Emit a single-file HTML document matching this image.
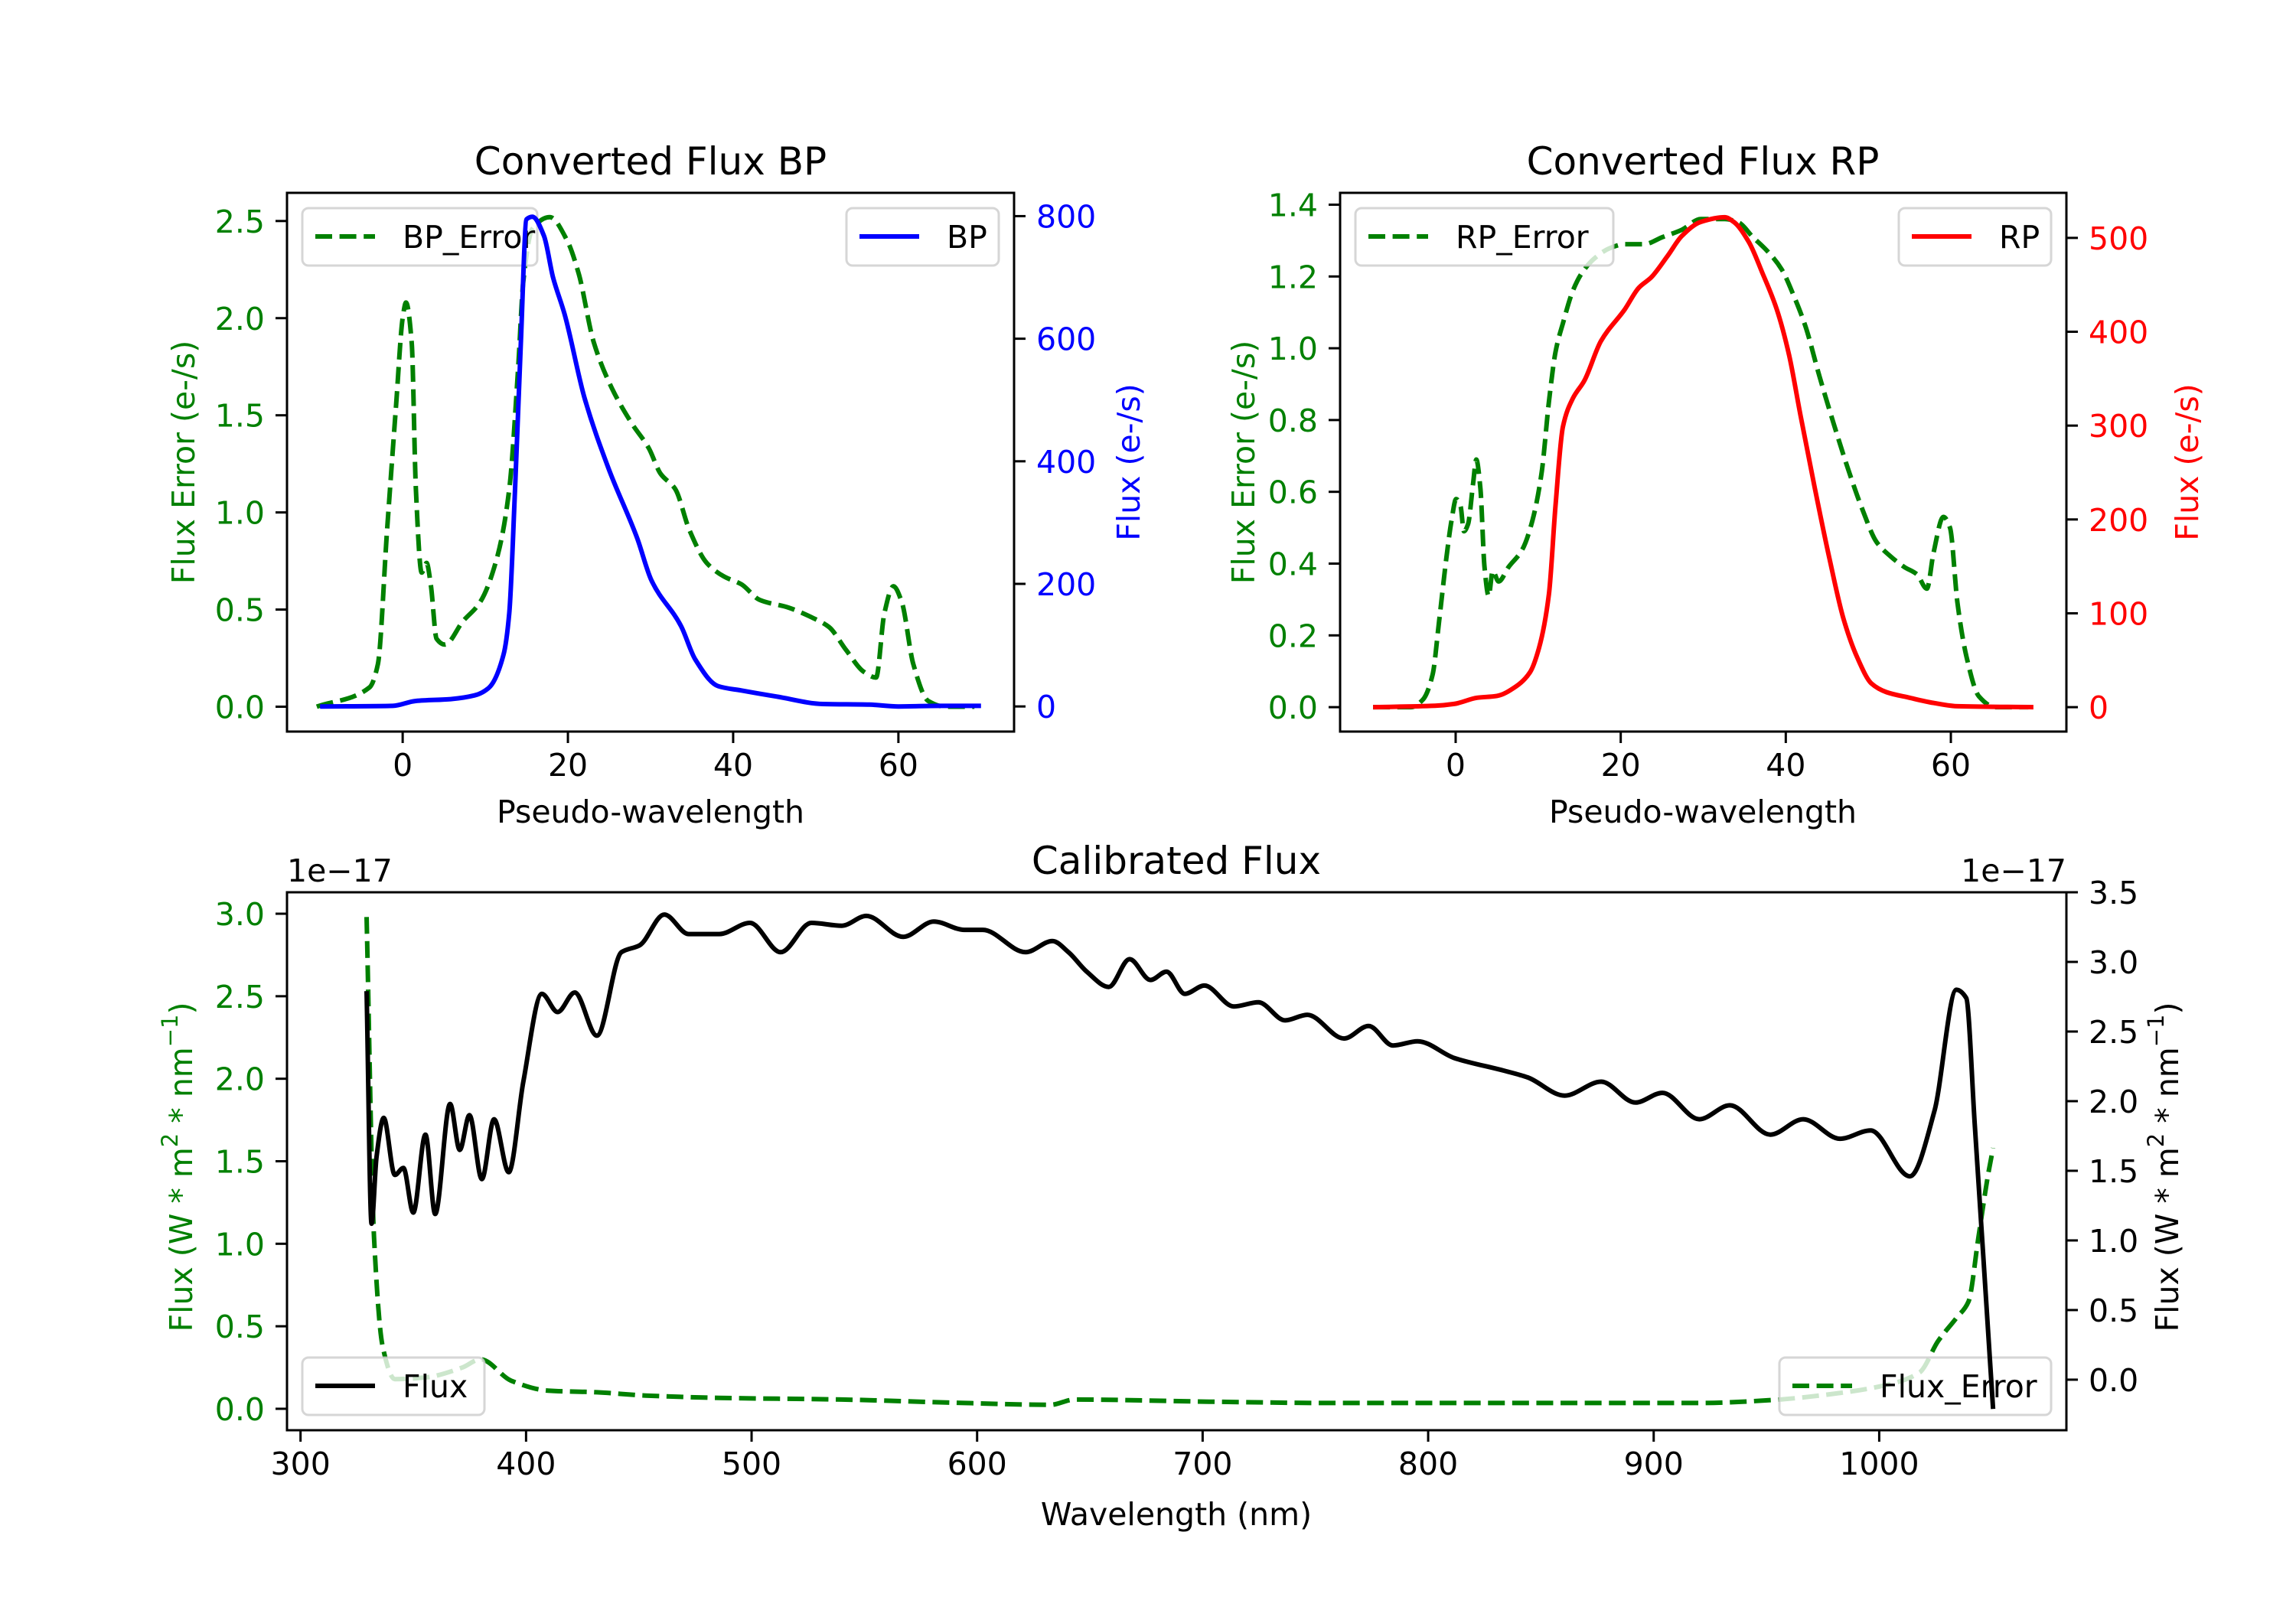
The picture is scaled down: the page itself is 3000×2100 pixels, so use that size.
<!DOCTYPE html>
<html><head><meta charset="utf-8"><style>
html,body{margin:0;padding:0;background:#fff;}
svg{display:block;font-family:"DejaVu Sans","Liberation Sans",sans-serif;}
</style></head>
<body>
<svg id="fig" xmlns="http://www.w3.org/2000/svg" width="3000" height="2100" viewBox="0 0 3000 2100"></svg>
<script>
// ---- data ----
const bpX = [-10,-1.2,1.6,5.8,8.7,10.4,12.2,12.9,13.6,14.3,15,15.7,17.1,18.2,19.6,22,24.9,28.4,30.1,33.7,35.4,38.2,41,45.3,50.9,56.5,60,65,70];
const bpFlux = [0,1,9,12,18,30,84,152,355,592,795,799,768,700,640,504,389,274,206,131,77,33,26,16,4,3,0,1,1];
const bpErrX = [-10.4,-4,-3,-1.9,-0.8,0,0.4,1.1,1.6,2.3,2.9,3.4,4.1,5.1,7.3,9.4,11.5,12.9,14,14.6,15.7,17.8,19.9,21.3,23.1,25.2,27.7,29.8,31.2,33,34.7,36.8,38.9,41,43.2,46.7,49.5,51.6,53.7,55.8,57.3,58.3,59.4,60.4,61.8,63.6,65.7,69.2];
const bpErr = [0,0.1,0.22,0.9,1.55,2.0,2.08,1.87,1.12,0.69,0.74,0.63,0.35,0.32,0.44,0.54,0.78,1.12,1.76,2.19,2.46,2.52,2.4,2.23,1.88,1.65,1.46,1.33,1.2,1.12,0.91,0.74,0.67,0.63,0.55,0.51,0.46,0.41,0.29,0.18,0.15,0.48,0.62,0.54,0.22,0.03,0,0];
const rpX = [-10,-2.5,-0.2,2.6,5,7.3,9,10.1,11.3,12.1,13,14.2,15.6,17.6,20.5,22.2,23.7,25.7,27.4,29.7,32.6,33.7,35.5,37.2,38.9,40.4,41.8,43.5,45.3,47,48.7,50.4,52.2,55,57.9,60.8,70];
const rpFlux = [0,1.5,3.4,10,12,22,37,63,120,215,299,329,348,390,424,447,458,481,502,517,522,517,496,462,424,375,310,234,158,94,52,25,16,10,4.5,1,0];
const rpErrX = [-10,-5.4,-4,-2.8,-2,-1.1,-0.5,0.06,0.6,1,1.5,2.1,2.5,3,3.5,4,4.5,5.2,6.4,8.1,9.3,10.4,11.3,12.1,13,14.2,15.3,16.8,18.8,20.5,22.8,25.1,27.4,29.7,32.6,34.3,36,37.8,39.5,40.9,42.4,44.1,45.8,47.6,49.3,51,52.7,54.4,55.9,57.1,57.9,59.1,59.9,60.8,61.9,63.4,65.4,69.4];
const rpErr = [0,0,0.02,0.09,0.24,0.42,0.52,0.58,0.56,0.49,0.51,0.62,0.69,0.61,0.39,0.31,0.38,0.35,0.39,0.44,0.52,0.65,0.85,0.99,1.07,1.16,1.21,1.25,1.28,1.29,1.29,1.31,1.33,1.36,1.36,1.35,1.31,1.27,1.22,1.15,1.06,0.92,0.79,0.66,0.55,0.46,0.42,0.39,0.37,0.33,0.43,0.53,0.50,0.29,0.14,0.03,0,0];
const calX = [329.3,331.5,333.7,336.9,341.8,345.6,350,355.4,359.7,366.3,370.6,374.9,380.4,385.8,392.3,398.8,407,414,421.6,431.4,442.3,450.4,461.3,472.1,485.7,499.3,512.9,526.5,540,550.9,567.2,580.8,594.3,602.5,621.5,633.4,640.5,648.6,658.4,667.6,676.9,684,692.1,700.8,713.8,724.7,736.6,746.4,762.7,773.6,784.4,795.3,811.6,833.3,844.2,860.5,876.7,891.9,903.9,920.2,933.8,951.7,966.3,982.6,996.2,1013.6,1024.5,1034.2,1038.6,1042.4,1046.2,1050.5];
const calFlux = [2.79,1.12,1.6,1.88,1.47,1.52,1.2,1.76,1.19,1.98,1.65,1.9,1.44,1.87,1.49,2.14,2.77,2.64,2.78,2.47,3.07,3.12,3.34,3.2,3.2,3.28,3.07,3.28,3.26,3.33,3.18,3.29,3.23,3.23,3.07,3.15,3.07,2.93,2.82,3.02,2.87,2.93,2.77,2.83,2.68,2.71,2.58,2.62,2.45,2.54,2.4,2.43,2.31,2.22,2.17,2.04,2.14,1.99,2.06,1.87,1.97,1.76,1.87,1.73,1.79,1.46,1.93,2.80,2.74,1.82,0.87,-0.21];
const errX = [329.3,332.6,336.4,341.8,355.4,371.7,379.8,393.4,409.7,431.4,453.1,485.7,540,594.3,632.4,643.2,702.9,757.3,811.6,920.2,952.8,974.5,1001.7,1017.9,1026.1,1034.2,1039.6,1044,1048.3,1050.5];
const calErr = [2.98,1.04,0.38,0.18,0.19,0.25,0.30,0.17,0.11,0.10,0.08,0.066,0.056,0.035,0.024,0.056,0.043,0.035,0.035,0.035,0.053,0.082,0.14,0.22,0.41,0.55,0.65,1.04,1.42,1.58];
// ticks
const topXTicks = [0,20,40,60];
const bpErrTicks = [0,0.5,1.0,1.5,2.0,2.5];
const bpErrTickLabels = ["0.0","0.5","1.0","1.5","2.0","2.5"];
const bpFluxTicks = [0,200,400,600,800];
const rpErrTicks = [0,0.2,0.4,0.6,0.8,1.0,1.2,1.4];
const rpErrTickLabels = ["0.0","0.2","0.4","0.6","0.8","1.0","1.2","1.4"];
const rpFluxTicks = [0,100,200,300,400,500];
const calXTicks = [300,400,500,600,700,800,900,1000];
const calErrTicks = [0,0.5,1.0,1.5,2.0,2.5,3.0];
const calErrTickLabels = ["0.0","0.5","1.0","1.5","2.0","2.5","3.0"];
const calFluxTicks = [0,0.5,1.0,1.5,2.0,2.5,3.0,3.5];
const calFluxTickLabels = ["0.0","0.5","1.0","1.5","2.0","2.5","3.0","3.5"];

const NS = "http://www.w3.org/2000/svg";
const fig = document.getElementById('fig');
function mk(tag, attrs, parent){
  const e = document.createElementNS(NS, tag);
  for (const k in attrs) e.setAttribute(k, attrs[k]);
  (parent||fig).appendChild(e);
  return e;
}
function scale(d0,d1,r0,r1){ return v => r0 + (v-d0)/(d1-d0)*(r1-r0); }
const FS = 41;

function panel(name, box, xlim, ylimL, ylimR){
  const p = {box, x: scale(xlim[0],xlim[1],box.x0,box.x1),
    yL: scale(ylimL[0],ylimL[1],box.y1,box.y0), yR: scale(ylimR[0],ylimR[1],box.y1,box.y0)};
  const cid = 'clip-'+name;
  const cp = mk('clipPath',{id:cid});
  mk('rect',{x:box.x0,y:box.y0,width:box.x1-box.x0,height:box.y1-box.y0},cp);
  p.clip = 'url(#'+cid+')';
  return p;
}
// monotone cubic path (no overshoot)
function monoPath(P){
  const n = P.length;
  if (n < 3) return 'M'+P.map(p=>p[0].toFixed(1)+','+p[1].toFixed(1)).join('L');
  const dx=[], m=[];
  for (let i=0;i<n-1;i++){ dx[i]=P[i+1][0]-P[i][0]; m[i]=(P[i+1][1]-P[i][1])/(dx[i]||1e-6); }
  const t=[m[0]];
  for (let i=1;i<n-1;i++){
    if (m[i-1]*m[i] <= 0) t[i]=0;
    else { const w1=2*dx[i]+dx[i-1], w2=dx[i]+2*dx[i-1]; t[i]=(w1+w2)/(w1/m[i-1]+w2/m[i]); }
  }
  t[n-1]=m[n-2];
  let d='M'+P[0][0].toFixed(1)+','+P[0][1].toFixed(1);
  for (let i=0;i<n-1;i++){
    const h=dx[i]/3;
    d+='C'+(P[i][0]+h).toFixed(1)+','+(P[i][1]+t[i]*h).toFixed(1)+' '+(P[i+1][0]-h).toFixed(1)+','+(P[i+1][1]-t[i+1]*h).toFixed(1)+' '+P[i+1][0].toFixed(1)+','+P[i+1][1].toFixed(1);
  }
  return d;
}
function line(p, xs, ys, yfn, color, dashed, name){
  const pts = xs.map((xv,i)=>[p.x(xv), yfn(ys[i])]);
  const e = mk('path',{d:monoPath(pts), fill:'none', stroke:color, 'stroke-width':6, 'stroke-linejoin':'round', 'clip-path':p.clip});
  if (dashed) e.setAttribute('stroke-dasharray','22 9.6');
  
  
}
function text(str, attrs, name){
  const e = mk('text', attrs);
  e.textContent = str;
  
  
  return e;
}
function frame(p, name){
  const b = p.box;
  const e = mk('rect',{x:b.x0,y:b.y0,width:b.x1-b.x0,height:b.y1-b.y0,fill:'none',stroke:'#000','stroke-width':3});
  
  
}
function xTicks(p, ticks, labels, name){
  ticks.forEach((t,i)=>{
    const X = p.x(t);
    mk('line',{x1:X,x2:X,y1:p.box.y1,y2:p.box.y1+15,stroke:'#000','stroke-width':3});
    text(labels[i], {x:X, y:p.box.y1+58, 'font-size':FS, 'text-anchor':'middle', fill:'#000'}, name);
  });
}
function yTicks(p, side, ticks, labels, color, name){
  const yfn = side==='L' ? p.yL : p.yR;
  ticks.forEach((t,i)=>{
    const Y = yfn(t);
    if (side==='L'){
      mk('line',{x1:p.box.x0-15,x2:p.box.x0,y1:Y,y2:Y,stroke:'#000','stroke-width':3});
      text(labels[i], {x:p.box.x0-29, y:Y+15, 'font-size':FS, 'text-anchor':'end', fill:color}, name);
    } else {
      mk('line',{x1:p.box.x1,x2:p.box.x1+15,y1:Y,y2:Y,stroke:'#000','stroke-width':3});
      text(labels[i], {x:p.box.x1+29, y:Y+15, 'font-size':FS, 'text-anchor':'start', fill:color}, name);
    }
  });
}
function legend(x, y, w, label, color, dashed, name){
  const g = mk('g',{});
  
  
  mk('rect',{x, y, width:w, height:75, rx:8, fill:'#fff','fill-opacity':0.8, stroke:'#ccc','stroke-opacity':0.8,'stroke-width':3},g);
  const l = mk('line',{x1:x+17,x2:x+95,y1:y+37,y2:y+37,stroke:color,'stroke-width':6},g);
  if (dashed) l.setAttribute('stroke-dasharray','22 9.6');
  const t = mk('text',{x:x+131, y:y+52, 'font-size':FS, fill:'#000'},g);
  t.textContent = label;
}
function vlabel(str, x, y, color, name){
  const e = text('', {x:0,y:0,'font-size':FS,'text-anchor':'middle',fill:color,'dominant-baseline':'central',
    transform:'translate('+x+','+y+') rotate(-90)'}, name);
  e.textContent = str;
  return e;
}
function fluxLabel(x, y, color, name){
  const e = mk('text',{x:0,y:0,'font-size':FS,'text-anchor':'middle',fill:color,'dominant-baseline':'central',
    transform:'translate('+x+','+y+') rotate(-90)'});
  
  
  e.innerHTML = 'Flux (W * m<tspan font-size="29" dy="-15">2</tspan><tspan dy="15"> * nm</tspan><tspan font-size="29" dy="-15">\u22121</tspan><tspan dy="15">)</tspan>';
}

const p1 = panel('bp', {x0:375,x1:1325,y0:252,y1:956}, [-14,74], [-0.128,2.645], [-41,838]);
const p2 = panel('rp', {x0:1751,x1:2700,y0:252,y1:956}, [-14,74], [-0.068,1.433], [-26,548]);
const p3 = panel('cal', {x0:375,x1:2700,y0:1166,y1:1869}, [294,1083], [-0.13,3.13], [-0.363,3.5]);

// ---- Panel 1: BP ----
line(p1, bpErrX, bpErr, p1.yL, '#008000', true, 'bp-error-line');
legend(395, 272, 307, 'BP_Error', '#008000', true, 'bp-error-legend');
line(p1, bpX, bpFlux, p1.yR, '#0000ff', false, 'bp-flux-line');
legend(1106, 272, 199, 'BP', '#0000ff', false, 'bp-legend');
frame(p1, 'bp-axes-frame');
xTicks(p1, topXTicks, topXTicks.map(String), 'bp-x-tick-label');
yTicks(p1, 'L', bpErrTicks, bpErrTickLabels, '#008000', 'bp-error-tick-label');
yTicks(p1, 'R', bpFluxTicks, bpFluxTicks.map(String), '#0000ff', 'bp-flux-tick-label');
text('Converted Flux BP', {x:850, y:228, 'font-size':50, 'text-anchor':'middle', fill:'#000'}, 'bp-title');
text('Pseudo-wavelength', {x:850, y:1075, 'font-size':FS, 'text-anchor':'middle', fill:'#000'}, 'bp-x-axis-title');
vlabel('Flux Error (e-/s)', 240, 604, '#008000', 'bp-error-axis-title');
vlabel('Flux (e-/s)', 1475, 604, '#0000ff', 'bp-flux-axis-title');

// ---- Panel 2: RP ----
line(p2, rpErrX, rpErr, p2.yL, '#008000', true, 'rp-error-line');
legend(1771, 272, 337, 'RP_Error', '#008000', true, 'rp-error-legend');
line(p2, rpX, rpFlux, p2.yR, '#ff0000', false, 'rp-flux-line');
legend(2481, 272, 199, 'RP', '#ff0000', false, 'rp-legend');
frame(p2, 'rp-axes-frame');
xTicks(p2, topXTicks, topXTicks.map(String), 'rp-x-tick-label');
yTicks(p2, 'L', rpErrTicks, rpErrTickLabels, '#008000', 'rp-error-tick-label');
yTicks(p2, 'R', rpFluxTicks, rpFluxTicks.map(String), '#ff0000', 'rp-flux-tick-label');
text('Converted Flux RP', {x:2225, y:228, 'font-size':50, 'text-anchor':'middle', fill:'#000'}, 'rp-title');
text('Pseudo-wavelength', {x:2225, y:1075, 'font-size':FS, 'text-anchor':'middle', fill:'#000'}, 'rp-x-axis-title');
vlabel('Flux Error (e-/s)', 1625, 604, '#008000', 'rp-error-axis-title');
vlabel('Flux (e-/s)', 2858, 604, '#ff0000', 'rp-flux-axis-title');

// ---- Panel 3: Calibrated ----
line(p3, errX, calErr, p3.yL, '#008000', true, 'cal-error-line');
legend(395, 1774, 238, 'Flux', '#000', false, 'flux-legend');
legend(2325, 1774, 355, 'Flux_Error', '#008000', true, 'flux-error-legend');
line(p3, calX, calFlux, p3.yR, '#000', false, 'cal-flux-line');
frame(p3, 'cal-axes-frame');
xTicks(p3, calXTicks, calXTicks.map(String), 'cal-x-tick-label');
yTicks(p3, 'L', calErrTicks, calErrTickLabels, '#008000', 'cal-error-tick-label');
yTicks(p3, 'R', calFluxTicks, calFluxTickLabels, '#000', 'cal-flux-tick-label');
text('Calibrated Flux', {x:1537, y:1142, 'font-size':50, 'text-anchor':'middle', fill:'#000'}, 'cal-title');
text('Wavelength (nm)', {x:1537, y:1993, 'font-size':FS, 'text-anchor':'middle', fill:'#000'}, 'cal-x-axis-title');
text('1e\u221217', {x:375, y:1152, 'font-size':FS, 'text-anchor':'start', fill:'#000'}, 'left-offset-text');
text('1e\u221217', {x:2700, y:1152, 'font-size':FS, 'text-anchor':'end', fill:'#000'}, 'right-offset-text');
fluxLabel(237, 1525, '#008000', 'cal-error-axis-title');
fluxLabel(2832, 1525, '#000', 'cal-flux-axis-title');
</script>
</body></html>
